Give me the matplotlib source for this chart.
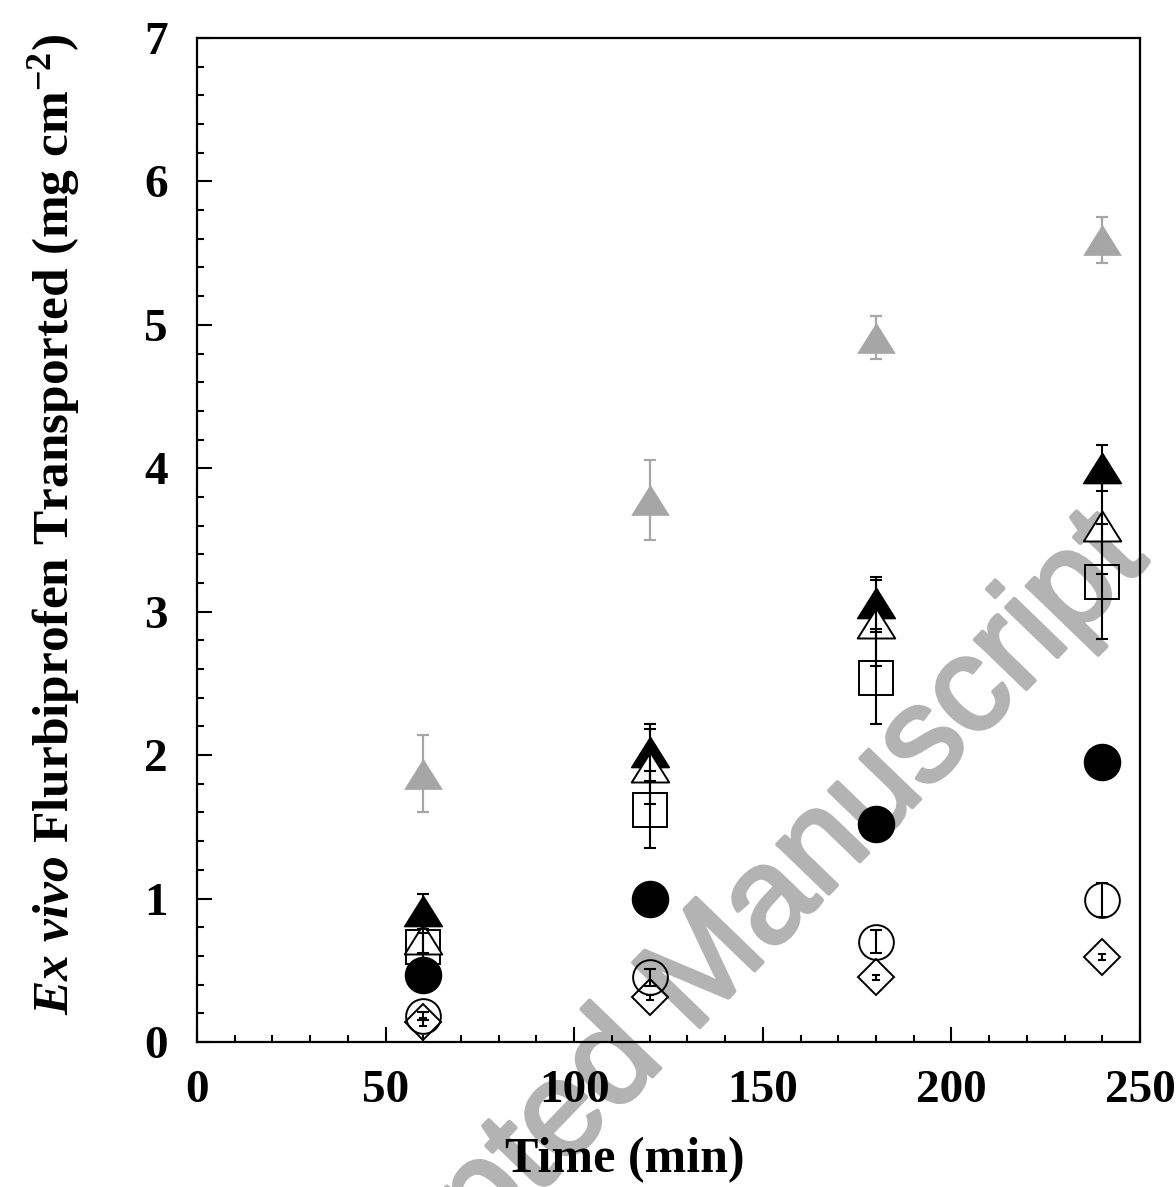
import numpy as np
import matplotlib.pyplot as plt
import matplotlib.patheffects as pe

plt.rcParams['font.family'] = 'Liberation Serif'
plt.rcParams['font.weight'] = 'bold'
plt.rcParams['mathtext.fontset'] = 'custom'
plt.rcParams['mathtext.rm'] = 'Liberation Serif:bold'
plt.rcParams['mathtext.it'] = 'Liberation Serif:italic:bold'
plt.rcParams['mathtext.bf'] = 'Liberation Serif:bold'

time = [60, 120, 180, 240]

gray_tri = [1.87, 3.78, 4.91, 5.59]
gray_tri_err = [0.27, 0.28, 0.15, 0.16]
black_tri = [0.91, 2.02, 3.06, 4.00]
black_tri_err = [0.12, 0.20, 0.18, 0.16]
open_tri = [0.72, 1.92, 2.92, 3.60]
open_tri_err = [0.10, 0.26, 0.30, 0.34]
open_sq = [0.66, 1.62, 2.54, 3.21]
open_sq_err = [0.10, 0.27, 0.32, 0.40]
black_circ = [0.47, 1.00, 1.52, 1.95]
open_circ = [0.18, 0.45, 0.70, 0.99]
open_circ_err = [0.03, 0.06, 0.08, 0.12]
open_dia = [0.14, 0.31, 0.45, 0.59]
open_dia_err = [0.03, 0.02, 0.02, 0.02]

tri = [(0, 0.8), (-1, -0.8), (1, -0.8), (0, 0.8)]
grey = '#a6a6a6'

fig = plt.figure(figsize=(11.76, 11.87), dpi=100)
ax = fig.add_axes([0.1675, 0.1222, 0.8019, 0.8458])
ax.set_facecolor('none')

# markers
ax.plot(time, gray_tri, ls='none', marker=tri, ms=27, mfc=grey, mec=grey, mew=0.5, zorder=3)
ax.plot(time, black_tri, ls='none', marker=tri, ms=27, mfc='black', mec='black', mew=1.2, zorder=3)
ax.plot(time, open_sq, ls='none', marker='s', ms=25, mfc='none', mec='black', mew=1.4, zorder=3)
ax.plot(time, open_tri, ls='none', marker=tri, ms=27, mfc='white', mec='black', mew=1.4, zorder=3)
ax.plot(time, black_circ, ls='none', marker='o', ms=26, mfc='black', mec='black', zorder=3)
ax.plot(time, open_circ, ls='none', marker='o', ms=25, mfc='none', mec='black', mew=1.4, zorder=3)
ax.plot(time, open_dia, ls='none', marker='D', ms=18.5, mfc='none', mec='black', mew=1.4, zorder=3)

# error bars on top
ax.errorbar(time, gray_tri, yerr=gray_tri_err, fmt='none', ecolor=grey, elinewidth=1.6, capsize=4.5, capthick=1.6, zorder=4)
for y, e in [(black_tri, black_tri_err), (open_tri, open_tri_err), (open_sq, open_sq_err), (open_circ, open_circ_err)]:
    ax.errorbar(time, y, yerr=e, fmt='none', ecolor='black', elinewidth=1.5, capsize=4.5, capthick=1.5, zorder=4)
ax.errorbar(time, open_dia, yerr=open_dia_err, fmt='none', ecolor='black', elinewidth=1.5, capsize=3.2, capthick=1.5, zorder=4)

ax.set_xlim(0, 250)
ax.set_ylim(0, 7)
ax.set_xticks(np.arange(0, 251, 50))
ax.set_xticks(np.arange(0, 251, 10), minor=True)
ax.set_yticks(np.arange(0, 8, 1))
ax.set_yticks(np.arange(0, 7.01, 0.2), minor=True)
ax.tick_params(which='both', direction='in', top=False, right=False, width=1.5, labelsize=34)
ax.tick_params(which='major', length=11)
ax.tick_params(which='minor', length=5)
ax.tick_params(axis='y', pad=21)
ax.tick_params(axis='x', pad=20)
for s in ax.spines.values():
    s.set_linewidth(1.6)

ax.set_xlabel('Time (min)', fontsize=36, fontweight='bold')
ax.set_ylabel(r'$\it{Ex\ vivo}$ Flurbiprofen Transported (mg cm$^{-2}$)', fontsize=37, fontweight='bold')
ax.xaxis.set_label_coords(0.454, -0.095)
ax.yaxis.set_label_coords(-0.122, 0.515)

# watermark
fig.text(0.2347, -0.235, 'Accepted Manuscript', rotation=46, rotation_mode='anchor',
         ha='left', va='baseline', fontsize=97, family='Liberation Sans', fontweight='normal',
         color='#b3b3b3', zorder=-1,
         path_effects=[pe.withStroke(linewidth=3, foreground='#b3b3b3')])

fig.savefig('out.png', dpi=100)
